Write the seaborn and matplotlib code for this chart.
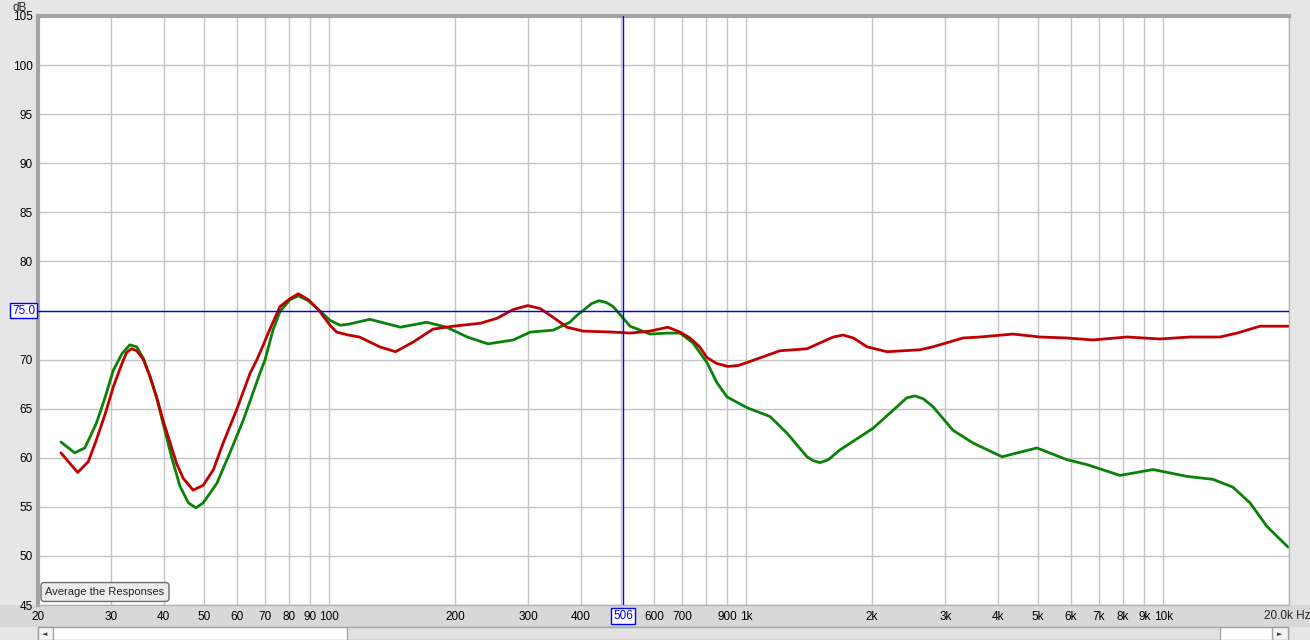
import pandas as pd
import seaborn as sns
import matplotlib.pyplot as plt
from matplotlib.patches import Rectangle
from matplotlib.ticker import NullLocator

red_freq = [22.7, 24.9, 26.4, 27.6, 29.0, 30.3, 31.8, 32.6, 33.5, 34.5, 35.8, 37.1, 38.5,
            39.9, 41.5, 43.0, 44.6, 47.1, 49.8, 52.7, 55.6, 59.9, 64.5, 67.0, 69.4, 71.3,
            76.1, 80.4, 84.2, 89.0, 94.0, 100.3, 104, 111, 118, 132, 144, 159, 177, 198,
            230, 252, 276, 299, 320, 344, 371, 406, 479, 526, 587, 648, 693, 732, 772, 804,
            849, 903, 956, 1003, 1203, 1397, 1501, 1615, 1704, 1805, 1946, 2173, 2607, 2801,
            3306, 3631, 4356, 5058, 5870, 6776, 8176, 9810, 11576, 13664, 15006, 17042, 20000]
red_db = [60.5, 58.5, 59.6, 61.8, 64.5, 67.2, 69.6, 70.7, 71.1, 70.9, 70.0, 68.3, 66.2,
          63.8, 61.5, 59.4, 57.9, 56.7, 57.2, 58.8, 61.5, 64.9, 68.6, 70.0, 71.5, 72.7,
          75.4, 76.2, 76.7, 76.1, 75.1, 73.5, 72.8, 72.5, 72.3, 71.3, 70.8, 71.8, 73.1, 73.4,
          73.7, 74.2, 75.1, 75.5, 75.2, 74.3, 73.3, 72.9, 72.8, 72.7, 72.9, 73.3, 72.8, 72.2, 71.3, 70.2,
          69.6, 69.3, 69.4, 69.7, 70.9, 71.1, 71.7, 72.3, 72.5, 72.2, 71.3, 70.8, 71.0, 71.3,
          72.2, 72.3, 72.6, 72.3, 72.2, 72.0, 72.3, 72.1, 72.3, 72.3, 72.7, 73.4, 73.4]

green_freq = [22.7, 24.5, 25.9, 27.6, 29.0, 30.3, 31.8, 33.2, 34.5, 35.8, 37.1, 38.5, 39.9,
              41.8, 43.8, 45.9, 47.8, 49.8, 53.7, 57.7, 62.1, 68.1, 70.1, 73.2, 76.1, 80.4,
              84.2, 89.0, 94.0, 100.3, 106, 111, 125, 148, 171, 191, 214, 240, 276, 303, 344,
              377, 392, 406, 425, 443, 462, 479, 502, 526, 587, 648, 693, 744, 804, 848, 898,
              1003, 1139, 1251, 1397, 1447, 1501, 1571, 1676, 2011, 2296, 2422, 2536, 2655, 2801,
              3128, 3494, 4100, 4974, 5870, 6556, 7866, 9440, 11386, 13146, 14678, 16126,
              17712, 19890]
green_db = [61.6, 60.5, 61.0, 63.5, 66.2, 68.9, 70.6, 71.5, 71.3, 70.1, 68.3, 66.1, 63.5,
            60.1, 57.1, 55.4, 54.9, 55.4, 57.4, 60.5, 63.8, 68.6, 70.0, 73.0, 74.9, 76.1,
            76.5, 76.0, 75.1, 74.0, 73.5, 73.6, 74.1, 73.3, 73.8, 73.3, 72.3, 71.6, 72.0, 72.8, 73.0,
            73.8, 74.5, 75.0, 75.7, 76.0, 75.8, 75.4, 74.4, 73.4, 72.6, 72.7, 72.7, 71.7, 69.7, 67.7, 66.2,
            65.1, 64.2, 62.5, 60.1, 59.7, 59.5, 59.8, 60.8, 63.0, 65.2, 66.1, 66.3, 66.0, 65.2,
            62.8, 61.5, 60.1, 61.0, 59.8, 59.3, 58.2, 58.8, 58.1, 57.8, 57.0, 55.4,
            53.0, 50.9]

x_grid = [20, 30, 40, 50, 60, 70, 80, 90, 100, 200, 300, 400, 500, 600, 700, 800, 900,
          1000, 2000, 3000, 4000, 5000, 6000, 7000, 8000, 9000, 10000, 20000]
x_labels = ['20', '30', '40', '50', '60', '70', '80', '90', '100', '200', '300', '400', '',
            '600', '700', '', '900', '1k', '2k', '3k', '4k', '5k', '6k', '7k', '8k', '9k',
            '10k', '']
y_ticks = list(range(45, 106, 5))
y_labels = ['' if v == 75 else str(v) for v in y_ticks]

cursor_freq = 506
ref_level = 75.0

W, H = 1310, 640


def fx(px):
    return px / W


def fy(py):
    return 1 - py / H


df = pd.concat([
    pd.DataFrame({'freq': green_freq, 'db': green_db, 'trace': 'green'}),
    pd.DataFrame({'freq': red_freq, 'db': red_db, 'trace': 'red'}),
])

sns.set_theme(style="whitegrid")
plt.rcParams['font.family'] = ['Liberation Sans', 'DejaVu Sans']

fig = plt.figure(figsize=(13.1, 6.4), dpi=100, facecolor='#e6e6e6')

# gray band behind the frequency labels, then the scroll bar
fig.patches.append(Rectangle((0, fy(627)), 1, fy(605) - fy(627), transform=fig.transFigure,
                             facecolor='#d8d8d8', edgecolor='none', zorder=-5))
fig.patches.append(Rectangle((fx(38), fy(640)), fx(1250), fy(627) - fy(640), transform=fig.transFigure,
                             facecolor='white', edgecolor='#a0a0a0', lw=1, zorder=1))
fig.patches.append(Rectangle((fx(347), fy(640)), fx(873), fy(627) - fy(640), transform=fig.transFigure,
                             facecolor='#e2e2e2', edgecolor='#a8a8a8', lw=1, zorder=2))
fig.patches.append(Rectangle((fx(38), fy(640)), fx(15), fy(627) - fy(640), transform=fig.transFigure,
                             facecolor='#f4f4f4', edgecolor='#a0a0a0', lw=1, zorder=2))
fig.patches.append(Rectangle((fx(1272), fy(640)), fx(16), fy(627) - fy(640), transform=fig.transFigure,
                             facecolor='#f4f4f4', edgecolor='#a0a0a0', lw=1, zorder=2))
fig.text(fx(45), fy(634), '\u25c4', fontsize=5, ha='center', va='center', color='#404040',
         family='DejaVu Sans', zorder=3)
fig.text(fx(1280), fy(634), '\u25ba', fontsize=5, ha='center', va='center', color='#404040',
         family='DejaVu Sans', zorder=3)

ax = fig.add_axes([fx(38), fy(605), fx(1289 - 38), fy(16) - fy(605)])
ax.set_facecolor('white')

sns.lineplot(data=df, x='freq', y='db', hue='trace', hue_order=['green', 'red'],
             palette={'green': '#0a820a', 'red': '#c00000'}, linewidth=2,
             errorbar=None, legend=False, ax=ax)

ax.set_xscale('log')
ax.set_xlim(20, 20000)
ax.set_ylim(45, 105)
ax.set_xticks(x_grid)
ax.set_xticklabels(x_labels)
ax.xaxis.set_minor_locator(NullLocator())
ax.set_yticks(y_ticks)
ax.set_yticklabels(y_labels)
ax.set_xlabel('')
ax.set_ylabel('')
ax.grid(True, color='#c4c4c4', linewidth=1)
ax.tick_params(axis='both', length=0, labelsize=8.5, colors='black')
ax.tick_params(axis='x', pad=4)
ax.tick_params(axis='y', pad=4)

for side in ['left', 'top']:
    ax.spines[side].set_color('#a4a4a4')
    ax.spines[side].set_linewidth(3)
for side in ['right', 'bottom']:
    ax.spines[side].set_color('#b4b4b4')
    ax.spines[side].set_linewidth(1)

ax.axhline(ref_level, color='#0000ff', linewidth=1, zorder=3)
ax.axvline(cursor_freq, color='#0000ff', linewidth=1, zorder=3)

ax.text(cursor_freq, -11 / 589, '506', transform=ax.get_xaxis_transform(), ha='center', va='center',
        fontsize=8.5, color='#0000ff', clip_on=False, zorder=6,
        bbox=dict(boxstyle='square,pad=0.15', facecolor='white', edgecolor='#0000ff', linewidth=1))
ax.text(-3 / 1251, ref_level, '75.0', transform=ax.get_yaxis_transform(), ha='right', va='center',
        fontsize=8.5, color='#0000ff', clip_on=False, zorder=6,
        bbox=dict(boxstyle='square,pad=0.15', facecolor='white', edgecolor='#0000ff', linewidth=1))

fig.text(fx(20), fy(8), 'dB', fontsize=8.5, ha='center', va='center')
fig.text(fx(1264), fy(616), '20.0k Hz', fontsize=8.5, ha='left', va='center')

fig.text(fx(105), fy(592), 'Average the Responses', fontsize=8, ha='center', va='center', zorder=5,
         bbox=dict(boxstyle='round,pad=0.4,rounding_size=0.3', facecolor='#ececec',
                   edgecolor='#6e6e6e', linewidth=1))

fig.savefig('out.png', dpi=100, facecolor=fig.get_facecolor())
